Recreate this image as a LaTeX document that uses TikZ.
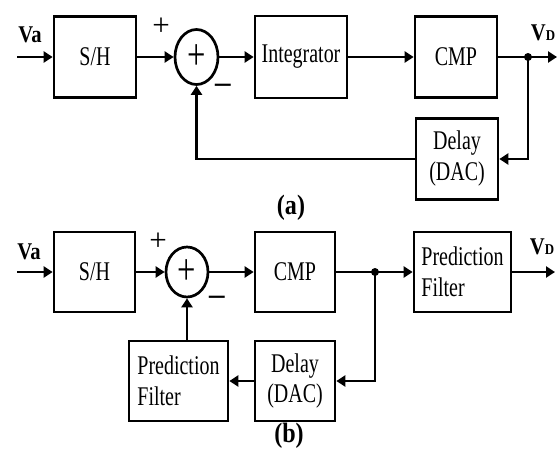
\documentclass[tikz,border=0pt]{standalone}
\usepackage{fontspec}
\setmainfont{Liberation Serif}
\newfontfamily\narrowserif[FakeStretch=0.74]{Liberation Serif}
\newfontfamily\labelserif[FakeStretch=0.86]{Liberation Serif}
\usetikzlibrary{arrows.meta,shapes.geometric}

\begin{document}
\begin{tikzpicture}[x=1pt,y=-1pt,
        blk/.style={draw,line width=2.7pt,inner sep=0pt,align=center,
            font=\narrowserif\fontsize{27}{31}\selectfont},
        sumnode/.style={draw,ellipse,line width=2.7pt,inner sep=0pt,
            font=\narrowserif\fontsize{44}{44}\selectfont},
        sig/.style={line width=2.7pt,-{Triangle[length=9pt,width=11pt]}},
        wire/.style={line width=2.7pt},
        sign/.style={font=\fontsize{31}{31}\selectfont},
        lbl/.style={font=\labelserif\bfseries\fontsize{24}{24}\selectfont},
        subcap/.style={font=\labelserif\bfseries\fontsize{28}{28}\selectfont}]
    \useasboundingbox (0,0) rectangle (557,453);
    % (a) loop with integrator
    \node[lbl] (va1) at (30,35) {Va};
    \coordinate (in1) at (17,57);
    \node[blk,minimum width=82pt,minimum height=81pt] (sh1) at (95,57) {S/H};
    \node[sumnode,minimum width=43pt,minimum height=55pt] (sum1) at (196.5,57) {+};
    \node[sign] (p1) at (161,27) {+};
    \node[sign] (m1) at (223,88) {\textbf{--}};
    \node[blk,minimum width=92pt,minimum height=82pt] (int1) at (301,57) {Integrator};
    \node[blk,minimum width=82pt,minimum height=81pt] (cmp1) at (456,57) {CMP};
    \node[blk,minimum width=82pt,minimum height=81pt] (dly1) at (457,159) {Delay\\(DAC)};
    \coordinate (j1) at (528,57);
    \coordinate (out1) at (557,57);
    \node[lbl] (vd1) at (543,33) {V{\fontsize{15}{15}\selectfont D}};
    \draw[sig] (in1) -- (sh1);
    \draw[sig] (sh1) -- (sum1);
    \draw[sig] (sum1) -- (int1);
    \draw[sig] (int1) -- (cmp1);
    \draw[wire] (cmp1) -- (j1);
    \draw[sig] (j1) -- (out1);
    \fill (j1) circle (4pt);
    \draw[sig] (j1) |- (dly1);
    \draw[sig] (dly1) -| (sum1);
    \node[subcap] (capa) at (291,208) {(a)};
    % (b) loop with prediction filters
    \node[lbl] (va2) at (29,252) {Va};
    \coordinate (in2) at (17,272);
    \node[blk,minimum width=81pt,minimum height=80pt] (sh2) at (94.5,272) {S/H};
    \node[sumnode,minimum width=42pt,minimum height=50pt] (sum2) at (187,272) {+};
    \node[sign] (p2) at (158,242) {+};
    \node[sign] (m2) at (217,300) {\textbf{--}};
    \node[blk,minimum width=80pt,minimum height=80pt] (cmp2) at (295,272) {CMP};
    \coordinate (j2) at (375,272);
    \node[blk,align=left,minimum width=97pt,minimum height=80pt] (pf2) at (462.5,272) {Prediction\\Filter};
    \coordinate (out2) at (555,272);
    \node[lbl] (vd2) at (542,247) {V{\fontsize{15}{15}\selectfont D}};
    \node[blk,minimum width=80pt,minimum height=80pt] (dly2) at (295,381) {Delay\\(DAC)};
    \node[blk,align=left,minimum width=99pt,minimum height=80pt] (pf3) at (178.5,381) {Prediction\\Filter};
    \draw[sig] (in2) -- (sh2);
    \draw[sig] (sh2) -- (sum2);
    \draw[sig] (sum2) -- (cmp2);
    \draw[wire] (cmp2) -- (j2);
    \draw[sig] (j2) -- (pf2);
    \draw[sig] (pf2) -- (out2);
    \fill (j2) circle (4pt);
    \draw[sig] (j2) |- (dly2);
    \draw[sig] (dly2) -- (pf3);
    \draw[sig] (pf3.north -| sum2.south) -- (sum2.south);
    \node[subcap] (capb) at (289,436) {(b)};
\end{tikzpicture}
\end{document}
